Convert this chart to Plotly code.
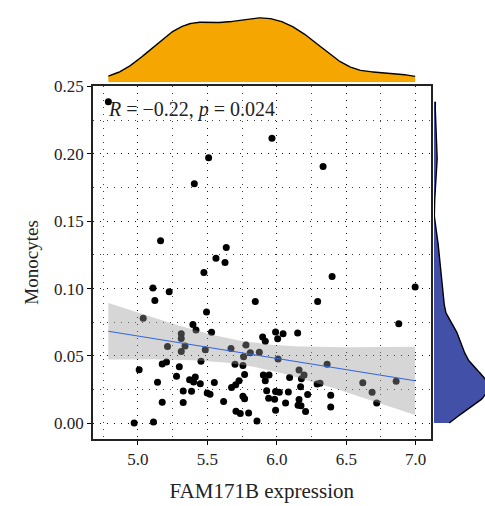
import numpy as np
import plotly.graph_objects as go

# FAM171B expression (x) and Monocytes fraction (y) per sample
fam171b = [
    4.787, 5.965, 5.509, 6.333, 5.406, 5.163, 5.636, 5.562, 5.627, 5.475,
    6.398, 5.108, 5.225, 5.122, 5.494, 5.038, 5.396, 5.418, 5.530, 5.312,
    5.312, 5.339, 5.213, 5.312, 5.485, 5.454, 5.206, 5.175, 5.009, 5.298,
    5.278, 5.413, 5.372, 5.401, 5.449, 5.550, 5.141, 5.326, 5.386, 5.499,
    5.519, 5.617, 5.175, 5.326, 4.973, 5.112, 5.845, 6.294, 5.991, 6.045,
    6.150, 5.898, 5.917, 6.006, 5.778, 5.670, 5.809, 5.874, 5.761, 6.009,
    5.699, 5.756, 6.160, 5.903, 5.944, 5.768, 6.092, 6.196, 6.177, 5.728,
    5.917, 5.704, 5.674, 6.171, 6.290, 6.311, 5.927, 5.991, 6.018, 6.083,
    5.756, 5.768, 5.941, 5.984, 6.222, 6.160, 6.063, 6.153, 6.174, 5.706,
    5.737, 5.797, 5.991, 6.207, 5.857, 6.996, 6.878, 6.362, 6.619, 6.859,
    6.686, 6.388, 6.719, 6.388,
]
monocytes = [
    0.2386, 0.2115, 0.1970, 0.1906, 0.1778, 0.1354, 0.1305, 0.1225, 0.1194, 0.1119,
    0.1090, 0.1005, 0.0976, 0.0911, 0.0826, 0.0780, 0.0734, 0.0693, 0.0676, 0.0664,
    0.0630, 0.0574, 0.0569, 0.0533, 0.0545, 0.0460, 0.0455, 0.0440, 0.0397, 0.0419,
    0.0349, 0.0344, 0.0324, 0.0307, 0.0293, 0.0302, 0.0305, 0.0240, 0.0237, 0.0225,
    0.0215, 0.0162, 0.0157, 0.0155, 0.0002, 0.0009, 0.0903, 0.0903, 0.0678, 0.0664,
    0.0671, 0.0640, 0.0608, 0.0627, 0.0581, 0.0555, 0.0523, 0.0528, 0.0494, 0.0477,
    0.0438, 0.0429, 0.0395, 0.0358, 0.0358, 0.0363, 0.0339, 0.0358, 0.0331, 0.0315,
    0.0315, 0.0286, 0.0266, 0.0271, 0.0291, 0.0298, 0.0242, 0.0235, 0.0230, 0.0233,
    0.0201, 0.0182, 0.0186, 0.0179, 0.0213, 0.0177, 0.0150, 0.0133, 0.0131, 0.0089,
    0.0073, 0.0077, 0.0097, 0.0087, 0.0017, 0.1012, 0.0738, 0.0438, 0.0300, 0.0312,
    0.0230, 0.0208, 0.0150, 0.0121,
]
stat_label = "<i>R</i> = \u22120.22, <i>p</i> = 0.024"
x_ticks = [5.0, 5.5, 6.0, 6.5, 7.0]
y_ticks = [0.00, 0.05, 0.10, 0.15, 0.20, 0.25]

x = np.array(fam171b)
y = np.array(monocytes)
n = len(x)

FONT = "Liberation Serif"
ORANGE = "#F5A600"
BLUE = "#4350A8"
W, H = 485, 506


def expand(v, f=0.05):
    lo, hi = v.min(), v.max()
    d = (hi - lo) * f
    return [lo - d, hi + d]


def kde(v, grid, adjust=1.0):
    q75, q25 = np.percentile(v, [75, 25])
    bw = adjust * 0.9 * min(v.std(ddof=1), (q75 - q25) / 1.34) * len(v) ** -0.2
    z = (grid[:, None] - v[None, :]) / bw
    return np.exp(-0.5 * z ** 2).sum(axis=1) / (len(v) * bw * np.sqrt(2 * np.pi))


# linear fit with 95% confidence band
b, a = np.polyfit(x, y, 1)
resid = y - (a + b * x)
s = np.sqrt((resid ** 2).sum() / (n - 2))
sxx = ((x - x.mean()) ** 2).sum()
xg = np.linspace(x.min(), x.max(), 80)
yg = a + b * xg
se = s * np.sqrt(1.0 / n + (xg - x.mean()) ** 2 / sxx)
t975 = 1.983
lo_band, hi_band = yg - t975 * se, yg + t975 * se

# marginal densities over the data range
gx = np.linspace(x.min(), x.max(), 300)
dx = kde(x, gx, adjust=1.0)
gy = np.linspace(y.min(), y.max(), 300)
dy = kde(y, gy, adjust=0.85)

fig = go.Figure()

fig.add_trace(go.Scatter(
    x=x, y=y, mode="markers", xaxis="x", yaxis="y",
    marker=dict(color="black", size=7, line=dict(width=0)),
    hoverinfo="skip", showlegend=False))

fig.add_trace(go.Scatter(
    x=np.concatenate([xg, xg[::-1]]), y=np.concatenate([hi_band, lo_band[::-1]]),
    fill="toself", fillcolor="rgba(153,153,153,0.4)", line=dict(width=0),
    mode="lines", xaxis="x", yaxis="y", hoverinfo="skip", showlegend=False))

fig.add_trace(go.Scatter(
    x=xg, y=yg, mode="lines", line=dict(color="#3366DD", width=1.1),
    xaxis="x", yaxis="y", hoverinfo="skip", showlegend=False))

# top density (x)
fig.add_trace(go.Scatter(
    x=np.concatenate([gx, gx[::-1]]), y=np.concatenate([dx, np.zeros_like(dx)]),
    fill="toself", fillcolor=ORANGE, line=dict(width=0), mode="lines",
    xaxis="x2", yaxis="y2", hoverinfo="skip", showlegend=False))
fig.add_trace(go.Scatter(
    x=gx, y=dx, mode="lines", line=dict(color="black", width=1.4),
    xaxis="x2", yaxis="y2", hoverinfo="skip", showlegend=False))

# right density (y)
fig.add_trace(go.Scatter(
    x=np.concatenate([dy, np.zeros_like(dy)]), y=np.concatenate([gy, gy[::-1]]),
    fill="toself", fillcolor=BLUE, line=dict(width=0), mode="lines",
    xaxis="x3", yaxis="y3", hoverinfo="skip", showlegend=False))
fig.add_trace(go.Scatter(
    x=dy, y=gy, mode="lines", line=dict(color="black", width=1.4),
    xaxis="x3", yaxis="y3", hoverinfo="skip", showlegend=False))

xr = expand(x)
yr = expand(y)

main_x_dom = [93 / W, 430.5 / W]
main_y_dom = [1 - 438 / H, 1 - 79 / H]

# right panel width: the density at 0.0676 fills ~45% of the strip
d_ref = np.interp(0.0676, gy, dy)
right_range = d_ref * 51 / 22.7

DOTS = "1px,6px"
grid_style = dict(showgrid=True, gridcolor="rgba(0,0,0,0.75)", gridwidth=1,
                  griddash=DOTS)

fig.update_layout(
    width=W, height=H, margin=dict(l=0, r=0, t=0, b=0),
    paper_bgcolor="white", plot_bgcolor="rgba(0,0,0,0)",
    font=dict(family=FONT, color="#222222"),
    xaxis=dict(
        domain=main_x_dom, range=xr, anchor="y",
        tickvals=x_ticks, ticktext=[f"{v:.1f}" for v in x_ticks],
        ticks="outside", ticklen=4, tickwidth=1.2, tickcolor="black",
        showline=True, mirror=True, linecolor="#222222", linewidth=1.5,
        zeroline=False, tickfont=dict(size=17, family=FONT, color="#222222"),
        title=dict(text="FAM171B expression", font=dict(size=21, family=FONT), standoff=15),
        minor=dict(dtick=0.25, tick0=4.75, showgrid=True, gridcolor="rgba(0,0,0,0.75)",
                   gridwidth=1, griddash=DOTS),
        **grid_style),
    yaxis=dict(
        domain=main_y_dom, range=yr, anchor="x",
        tickvals=y_ticks, ticktext=[f"{v:.2f}" for v in y_ticks],
        ticks="outside", ticklen=4, tickwidth=1.2, tickcolor="black",
        showline=True, mirror=True, linecolor="#222222", linewidth=1.5,
        zeroline=False, tickfont=dict(size=17, family=FONT, color="#222222"),
        title=dict(text="Monocytes", font=dict(size=19, family=FONT), standoff=10),
        minor=dict(dtick=0.025, tick0=0, showgrid=True, gridcolor="rgba(0,0,0,0.75)",
                   gridwidth=1, griddash=DOTS),
        **grid_style),
    xaxis2=dict(domain=main_x_dom, range=xr, anchor="y2", visible=False),
    yaxis2=dict(domain=[1 - 75.5 / H, 1], range=[0, dx.max() * 75.5 / 65.5],
                anchor="x2", visible=False),
    xaxis3=dict(domain=[434 / W, 1], range=[0, right_range], anchor="y3",
                visible=False),
    yaxis3=dict(domain=main_y_dom, range=yr, anchor="x3", visible=False),
)

fig.add_annotation(
    x=106 / W, y=1 - 103 / H, xref="paper", yref="paper", xanchor="left",
    yanchor="middle", text=stat_label, showarrow=False,
    font=dict(size=20, family=FONT, color="#222222"))

fig.write_html("out.html")
